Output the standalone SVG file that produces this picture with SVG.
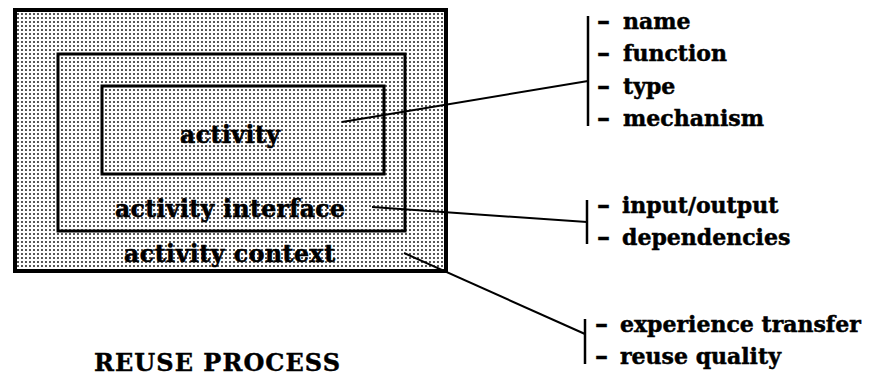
<svg xmlns="http://www.w3.org/2000/svg" width="873" height="383" viewBox="0 0 873 383">
  <defs>
    <!-- halftone screen used to shade the nested boxes -->
    <pattern id="dots" width="4" height="4" patternUnits="userSpaceOnUse">
      <rect width="4" height="4" fill="#ffffff"/>
      <circle cx="2" cy="2" r="0.95" fill="#111111"/>
    </pattern>
    <style>
      .box    { fill: none; stroke: #000; stroke-linejoin: miter; }
      .shaded { fill: url(#dots); stroke: #000; stroke-width: 4; }
      .label  { font-family: "DejaVu Serif", "Liberation Serif", serif; font-weight: bold; font-size: 23.5px; fill: #000; stroke: #000; stroke-width: 0.6; }
      .item   { font-family: "DejaVu Serif", "Liberation Serif", serif; font-weight: bold; font-size: 22px; fill: #000; stroke: #000; stroke-width: 0.5; }
      .dash   { font-size: 26px; }
      .title  { font-family: "DejaVu Serif", "Liberation Serif", serif; font-weight: bold; font-size: 24px; fill: #000; stroke: #000; stroke-width: 0.4; }
      .bar    { stroke: #000; stroke-width: 2.5; }
      .link   { stroke: #000; stroke-width: 2; fill: none; }
    </style>
  </defs>

  <rect width="873" height="383" fill="#ffffff"/>

  <!-- outermost box: activity context -->
  <g id="activity-context">
    <rect x="15" y="10" width="431" height="261" class="shaded"/>
    <text class="label" x="124" y="262" textLength="211" lengthAdjust="spacing">activity context</text>
  </g>

  <!-- middle box: activity interface -->
  <g id="activity-interface">
    <rect x="58" y="54" width="347" height="177" class="box" stroke-width="3"/>
    <text class="label" x="115" y="217" textLength="230" lengthAdjust="spacing">activity interface</text>
  </g>

  <!-- innermost box: activity -->
  <g id="activity">
    <rect x="102" y="86" width="282" height="88" class="box" stroke-width="3"/>
    <text class="label" x="180" y="143" textLength="100" lengthAdjust="spacing">activity</text>
  </g>

  <!-- attribute lists -->
  <g id="activity-attributes">
    <line class="bar" x1="588" y1="16" x2="588" y2="126"/>
    <text class="item" x="597" y="29"><tspan class="dash">–</tspan> <tspan x="623">name</tspan></text>
    <text class="item" x="597" y="61"><tspan class="dash">–</tspan> <tspan x="623">function</tspan></text>
    <text class="item" x="597" y="94"><tspan class="dash">–</tspan> <tspan x="623">type</tspan></text>
    <text class="item" x="597" y="126"><tspan class="dash">–</tspan> <tspan x="623">mechanism</tspan></text>
  </g>

  <g id="interface-attributes">
    <line class="bar" x1="587" y1="200" x2="587" y2="244"/>
    <text class="item" x="597" y="213"><tspan class="dash">–</tspan> <tspan x="622">input/output</tspan></text>
    <text class="item" x="597" y="245"><tspan class="dash">–</tspan> <tspan x="622">dependencies</tspan></text>
  </g>

  <g id="context-attributes">
    <line class="bar" x1="585" y1="319" x2="585" y2="364"/>
    <text class="item" x="595" y="332"><tspan class="dash">–</tspan> <tspan x="620">experience transfer</tspan></text>
    <text class="item" x="595" y="364"><tspan class="dash">–</tspan> <tspan x="620">reuse quality</tspan></text>
  </g>

  <g id="title">
    <text class="title" x="94" y="371" textLength="246" lengthAdjust="spacing">REUSE PROCESS</text>
  </g>

  <!-- leader lines from each box to its attribute list -->
  <g id="connectors">
    <line class="link" x1="342" y1="122" x2="588" y2="81"/>
    <line class="link" x1="372" y1="207" x2="587" y2="222"/>
    <line class="link" x1="404" y1="253" x2="585" y2="334"/>
  </g>
</svg>
